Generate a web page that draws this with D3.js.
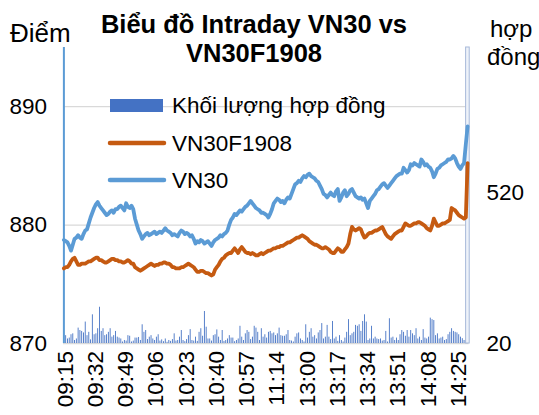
<!DOCTYPE html>
<html>
<head>
<meta charset="utf-8">
<script src="https://cdn.jsdelivr.net/npm/d3@7"></script>
<style>
	body { margin: 0; background: #fff; }
	svg { display: block; font-family: 'Liberation Sans', Arial, sans-serif; }
</style>
</head>
<body>
<div id="chart"></div>
<script>
let tickLabels = ['09:15', '09:32', '09:49', '10:06', '10:23', '10:40', '10:57', '11:14', '13:00', '13:17', '13:34', '13:51', '14:08', '14:25']
let leftTicks = [870, 880, 890]
let rightTicks = [20, 520]

let vn30 = [
	878.7, 878.6, 878.5, 878.2, 877.8, 878.3, 878.8, 878.9, 879.1, 878.9,
	878.8, 879.2, 879.5, 879.6, 880.1, 880.6, 881.0, 881.4, 881.7, 881.9,
	881.6, 881.4, 881.2, 881.0, 880.8, 880.9, 881.1, 881.2, 881.0, 881.3,
	881.3, 881.5, 881.6, 881.4, 881.2, 881.8, 881.5, 881.4, 881.6, 881.3,
	880.5, 880.0, 879.5, 879.2, 878.8, 879.0, 879.2, 879.3, 879.1, 879.2,
	879.3, 879.4, 879.2, 879.3, 879.4, 879.3, 879.5, 879.7, 879.5, 879.4,
	879.3, 879.1, 879.2, 879.1, 879.0, 879.3, 879.5, 879.4, 879.2, 879.3,
	879.2, 879.0, 879.1, 878.8, 878.4, 878.6, 878.5, 878.7, 878.6, 878.4,
	878.5, 878.6, 878.4, 878.2, 878.5, 878.7, 878.8, 878.9, 879.1, 879.0,
	879.2, 879.3, 879.5, 880.0, 880.4, 880.6, 880.9, 880.8, 881.0, 881.2,
	881.1, 881.3, 881.5, 881.6, 881.8, 882.0, 881.8, 881.6, 881.4, 881.3,
	881.2, 881.0, 881.0, 880.9, 880.8, 880.6, 880.9, 881.3, 881.8, 882.0,
	882.2, 882.1, 881.9, 882.0, 881.8, 882.1, 882.3, 882.2, 882.6, 883.0,
	883.4, 883.5, 883.7, 883.6, 883.9, 884.1, 884.0, 884.2, 884.3, 884.1,
	884.0, 883.9, 883.7, 883.6, 883.3, 883.0, 882.6, 882.5, 882.3, 882.5,
	882.7, 882.5, 882.4, 882.8, 883.0, 882.0, 882.3, 882.7, 882.9, 882.4,
	882.6, 882.9, 883.0, 882.7, 882.4, 882.3, 882.2, 882.3, 882.1, 882.2,
	881.8, 881.4, 882.0, 882.2, 882.4, 882.6, 882.9, 883.0, 883.2, 883.4,
	883.5, 883.3, 883.1, 883.3, 883.5, 883.7, 883.9, 884.1, 884.2, 884.3,
	884.3, 884.8, 884.6, 884.4, 884.6, 885.1, 885.0, 885.2, 885.1, 885.0,
	884.9, 885.5, 885.3, 885.0, 885.1, 884.9, 884.8, 884.5, 884.0, 884.3,
	884.7, 884.8, 885.0, 885.1, 885.2, 885.3, 885.5, 885.5, 885.6, 885.8,
	885.6, 885.2, 884.9, 884.7, 885.0, 885.2, 886.8, 888.3
]

let vn30f = [
	876.3, 876.4, 876.4, 876.6, 876.9, 877.1, 877.2, 876.9, 876.6, 876.6,
	876.7, 876.7, 876.7, 876.8, 876.9, 876.9, 877.0, 877.1, 877.2, 877.2,
	877.0, 877.0, 876.9, 876.8, 876.8, 876.9, 877.0, 877.1, 877.1, 877.0,
	877.0, 876.9, 876.9, 876.8, 876.8, 876.9, 877.0, 876.9, 876.7, 876.7,
	876.4, 876.3, 876.2, 876.1, 876.2, 876.3, 876.4, 876.5, 876.6, 876.7,
	876.6, 876.5, 876.6, 876.6, 876.7, 876.7, 876.8, 876.8, 876.7, 876.7,
	876.6, 876.4, 876.4, 876.3, 876.3, 876.3, 876.4, 876.4, 876.5, 876.6,
	876.7, 876.6, 876.5, 876.4, 876.2, 876.0, 876.0, 876.1, 876.1, 876.0,
	875.9, 875.9, 875.8, 875.7, 875.8, 876.2, 876.4, 876.6, 876.9, 877.1,
	877.2, 877.4, 877.5, 877.6, 877.6, 877.8, 878.0, 877.8, 877.6, 877.9,
	878.1, 877.9, 877.7, 877.6, 877.6, 877.5, 877.6, 877.5, 877.4, 877.4,
	877.5, 877.6, 877.5, 877.6, 877.7, 877.8, 877.8, 877.9, 878.0, 878.0,
	878.1, 878.1, 878.2, 878.2, 878.3, 878.4, 878.5, 878.5, 878.6, 878.7,
	878.8, 878.9, 878.9, 879.0, 879.1, 879.0, 878.9, 878.8, 878.6, 878.5,
	878.4, 878.3, 878.3, 878.2, 878.1, 878.0, 878.0, 878.1, 878.0, 877.9,
	877.7, 877.6, 877.6, 877.8, 878.0, 877.9, 877.7, 877.7, 877.9, 878.1,
	878.4, 879.2, 879.8, 879.6, 879.5, 879.6, 879.7, 879.6, 879.2, 878.9,
	879.0, 879.2, 879.3, 879.3, 879.4, 879.5, 879.5, 879.6, 879.7, 879.8,
	879.5, 879.2, 879.0, 878.9, 878.8, 879.0, 879.2, 879.3, 879.4, 879.5,
	879.5, 879.8, 880.1, 880.0, 879.9, 879.9, 880.0, 880.1, 880.1, 880.2,
	880.2, 880.1, 880.0, 879.9, 879.7, 879.6, 879.5, 879.9, 880.5, 880.2,
	879.9, 879.9, 880.0, 880.1, 880.1, 880.2, 880.3, 880.4, 881.4, 881.3,
	881.2, 881.0, 880.8, 880.7, 880.6, 880.5, 880.6, 885.2
]

let volume = [
	1200, 46, 35, 38, 49, 52, 30, 35, 71, 63,
	60, 55, 91, 46, 57, 32, 115, 49, 52, 69,
	140, 60, 69, 46, 49, 57, 69, 41, 46, 60,
	41, 38, 35, 25, 30, 28, 46, 44, 25, 28,
	38, 38, 40, 30, 82, 57, 63, 33, 41, 46,
	35, 30, 41, 49, 28, 32, 26, 35, 24, 30,
	27, 33, 52, 28, 30, 41, 63, 30, 26, 33,
	46, 66, 30, 28, 41, 27, 57, 69, 44, 126,
	74, 35, 35, 28, 46, 49, 65, 41, 30, 63,
	27, 30, 35, 46, 38, 38, 26, 30, 35, 77,
	41, 30, 52, 63, 57, 33, 41, 77, 71, 57,
	30, 69, 41, 49, 38, 57, 60, 52, 55, 46,
	52, 71, 46, 44, 44, 49, 63, 30, 28, 25,
	41, 52, 55, 35, 30, 25, 82, 38, 57, 69,
	41, 46, 35, 55, 63, 86, 35, 41, 80, 41,
	33, 93, 35, 41, 27, 46, 30, 25, 38, 57,
	99, 46, 52, 57, 80, 77, 82, 60, 93, 115,
	91, 30, 35, 77, 35, 41, 35, 33, 35, 28,
	30, 60, 25, 102, 38, 41, 30, 38, 30, 49,
	63, 57, 44, 63, 41, 63, 52, 46, 69, 35,
	41, 30, 66, 38, 35, 41, 104, 99, 96, 46,
	52, 35, 38, 41, 30, 33, 49, 57, 69, 60,
	57, 55, 49, 41, 36, 30, 28, 1500
]

// one category per minute: morning and afternoon sessions, then the ATC print
let categories = []
let addSession = (from, to) => {
	for (let m = from; m <= to; m++) {
		categories.push(String(Math.floor(m / 60)).padStart(2, '0') + ':' + String(m % 60).padStart(2, '0'))
	}
}
addSession(9 * 60 + 15, 11 * 60 + 30)
addSession(13 * 60, 14 * 60 + 30)
categories.push('14:45')

let chartW = 539
let chartH = 415
let plotLeft = 63
let plotRight = 468.5
let plotTop = 47
let plotBottom = 343

let svg = d3
	.select('#chart')
	.append('svg:svg')
	.attr('width', chartW)
	.attr('height', chartH)

let x = d3
	.scaleBand()
	.domain(categories)
	.range([plotLeft, plotRight])
	.paddingInner(0.5)
	.paddingOuter(0.25)
let xc = c => x(c) + x.bandwidth() / 2

let yLeft = d3.scaleLinear().domain([870, 895]).range([plotBottom, plotTop])
let yRight = d3.scaleLinear().domain([20, 1000]).range([plotBottom, plotTop]).clamp(true)

// gridlines + left tick labels
let gLeft = svg
	.append('g')
	.attr('transform', `translate(${plotLeft},0)`)
	.call(d3.axisLeft(yLeft).tickValues(leftTicks).tickSize(-(plotRight - plotLeft)).tickPadding(16))
gLeft.select('.domain').remove()
gLeft.selectAll('line').attr('stroke', '#d9d9d9').attr('stroke-width', 1.3)
gLeft.selectAll('text').attr('font-size', 22.5).attr('fill', '#000').attr('font-family', 'Liberation Sans, Arial, sans-serif')

let gRight = svg
	.append('g')
	.attr('transform', `translate(${plotRight},0)`)
	.call(d3.axisRight(yRight).tickValues(rightTicks).tickSize(0).tickPadding(18))
gRight.select('.domain').remove()
gRight.selectAll('text').attr('font-size', 22.5).attr('fill', '#000').attr('font-family', 'Liberation Sans, Arial, sans-serif')

// volume bars (first = ATO, last = ATC, both run off the top)
let last = categories.length - 1
svg
	.append('g')
	.selectAll('rect')
	.data(volume)
	.join('rect')
	.attr('x', (d, i) => {
		if (i == last) return xc(categories[i]) - 2
		if (i == 0) return xc(categories[i]) - 1
		return x(categories[i])
	})
	.attr('width', (d, i) => (i == last ? 3.6 : i == 0 ? 2 : x.bandwidth()))
	.attr('y', d => yRight(d))
	.attr('height', d => plotBottom - yRight(d))
	.attr('fill', (d, i) => (i == last ? '#eef2f9' : i == 0 ? '#5b9bd5' : '#4472c4'))
	.attr('stroke', (d, i) => (i == last ? '#a7b9d9' : 'none'))
	.attr('stroke-width', 1)

let line = d3
	.line()
	.x((d, i) => xc(categories[i]))
	.y(d => yLeft(d))

svg
	.append('path')
	.datum(vn30f)
	.attr('d', line)
	.attr('fill', 'none')
	.attr('stroke', '#c55a11')
	.attr('stroke-width', 3.8)
	.attr('stroke-linejoin', 'round')
	.attr('stroke-linecap', 'round')

svg
	.append('path')
	.datum(vn30)
	.attr('d', line)
	.attr('fill', 'none')
	.attr('stroke', '#5b9bd5')
	.attr('stroke-width', 3.8)
	.attr('stroke-linejoin', 'round')
	.attr('stroke-linecap', 'round')

// x tick labels, rotated
svg
	.append('g')
	.selectAll('text')
	.data(tickLabels)
	.join('text')
	.attr('transform', d => `translate(${xc(d) + 1},351) rotate(-90)`)
	.attr('text-anchor', 'end')
	.attr('dy', '0.35em')
	.attr('font-size', 22.5)
	.text(d => d)

// legend
let legend = svg.append('g')
legend.append('rect').attr('x', 110).attr('y', 99).attr('width', 53).attr('height', 13).attr('fill', '#4472c4')
legend
	.append('line')
	.attr('x1', 110).attr('x2', 164).attr('y1', 143).attr('y2', 143)
	.attr('stroke', '#c55a11').attr('stroke-width', 4.5).attr('stroke-linecap', 'round')
legend
	.append('line')
	.attr('x1', 110).attr('x2', 164).attr('y1', 180).attr('y2', 180)
	.attr('stroke', '#5b9bd5').attr('stroke-width', 4.5).attr('stroke-linecap', 'round')
let legendNames = ['Khối lượng hợp đồng', 'VN30F1908', 'VN30']
let legendY = [105, 143, 180]
legend
	.selectAll('text')
	.data(legendNames)
	.join('text')
	.attr('x', 172)
	.attr('y', (d, i) => legendY[i])
	.attr('dy', '0.35em')
	.attr('font-size', 22.5)
	.text(d => d)

// titles
svg.append('text').attr('x', 254).attr('y', 33).attr('text-anchor', 'middle').attr('font-size', 25.5).attr('font-weight', 'bold').text('Biểu đồ Intraday VN30 vs')
svg.append('text').attr('x', 254).attr('y', 62).attr('text-anchor', 'middle').attr('font-size', 25.5).attr('font-weight', 'bold').text('VN30F1908')
svg.append('text').attr('x', 10).attr('y', 42).attr('font-size', 26).text('Điểm')
svg.append('text').attr('x', 490).attr('y', 37).attr('font-size', 24).text('hợp')
svg.append('text').attr('x', 487).attr('y', 65).attr('font-size', 24).text('đồng')
</script>
</body>
</html>
